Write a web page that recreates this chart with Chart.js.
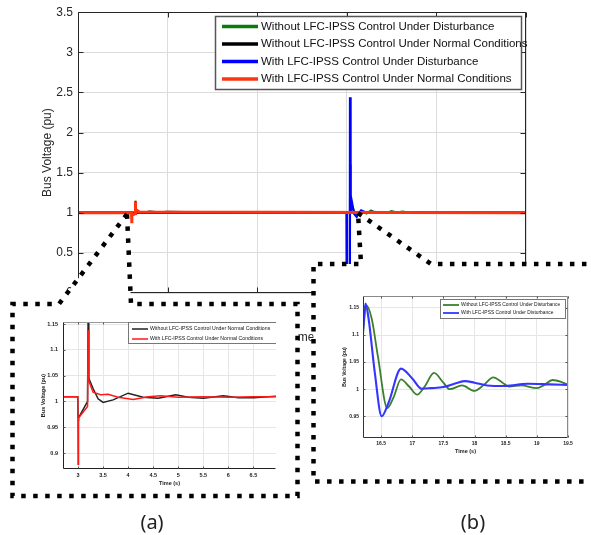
<!DOCTYPE html>
<html><head><meta charset="utf-8">
<script src="https://cdn.jsdelivr.net/npm/chart.js@4.4.1/dist/chart.umd.min.js"></script>
<style>
html,body{margin:0;padding:0;background:#fff;width:591px;height:535px;overflow:hidden}
canvas{position:absolute}
.lab{position:absolute;font-family:"Noto Sans","Open Sans",sans-serif;font-size:20px;color:#222;transform:translate(-50%,-50%);white-space:nowrap}
</style></head><body>
<canvas id="main" width="591" height="349" style="left:0;top:0"></canvas>
<canvas id="callout" width="591" height="535" style="left:0;top:0"></canvas>
<canvas id="insA" width="285" height="193" style="left:12px;top:304px"></canvas>
<canvas id="insB" width="278" height="218" style="left:313px;top:264px"></canvas>
<div class="lab" style="left:152px;top:521px">(a)</div>
<div class="lab" style="left:473px;top:521px">(b)</div>
<script>
// ---------- names ----------
const seriesNames = [
  'Without LFC-IPSS Control Under Disturbance',
  'Without LFC-IPSS Control Under Normal Conditions',
  'With LFC-IPSS Control Under Disturbance',
  'With LFC-IPSS Control Under Normal Conditions'
];
const panelLabels = ['(a)', '(b)'];
const xTitle = 'Time (s)';
const yTitle = 'Bus Voltage (pu)';

// ---------- main chart ticks ----------
const mainXTickValues = [0, 5, 10, 15, 20, 25];
const mainXTickLabels = ['0', '5', '10', '15', '20', '25'];
const mainYTickValues = [0, 0.5, 1, 1.5, 2, 2.5, 3, 3.5];
const mainYTickLabels = ['0', '0.5', '1', '1.5', '2', '2.5', '3', '3.5'];

// ---------- main chart series ----------
const mainGreenT = [0, 14.99, 15.0, 15.17, 15.18, 15.21, 15.28, 15.5, 15.8, 16.1, 16.35, 16.6, 16.9, 17.2, 17.5, 17.8, 18.1, 18.4, 19, 20, 25];
const mainGreenV = [1, 1, 0.3, 0.3, 1.6, 1.0, 1.1, 0.965, 1.02, 0.99, 1.03, 1.0, 1.007, 0.997, 1.022, 1.005, 1.017, 1.008, 1.005, 1.0, 1.0];
const mainBlackT = [0, 2.99, 3.0, 3.01, 3.19, 3.2, 3.22, 3.5, 4.0, 4.5, 5.0, 6, 7, 25];
const mainBlackV = [1, 1, 0.97, 0.968, 1.0, 1.15, 1.045, 0.998, 1.016, 1.007, 1.013, 1.01, 1.01, 1.0];
const mainBlueT = [0, 14.99, 15.0, 15.17, 15.18, 15.21, 15.27, 15.4, 15.55, 15.8, 16.1, 16.4, 17, 18, 25];
const mainBlueV = [1, 1, 0.1, 0.1, 2.44, 1.0, 1.15, 0.99, 0.95, 1.03, 1.0, 1.01, 1.005, 1.0, 1.0];
const mainRedT = [0, 2.99, 3.0, 3.01, 3.19, 3.2, 3.22, 3.4, 25];
const mainRedV = [1, 1, 0.87, 0.968, 0.99, 1.14, 1.04, 1.01, 1.0];

// ---------- inset (a) ----------
const insAXTickValues = [3, 3.5, 4, 4.5, 5, 5.5, 6, 6.5];
const insAXTickLabels = ['3', '3.5', '4', '4.5', '5', '5.5', '6', '6.5'];
const insAYTickValues = [0.9, 0.95, 1, 1.05, 1.1, 1.15];
const insAYTickLabels = ['0.9', '0.95', '1', '1.05', '1.1', '1.15'];
const insABlackT = [2.7, 2.995, 3.0, 3.01, 3.1, 3.19, 3.2, 3.215, 3.3, 3.4, 3.5, 3.7, 4.0, 4.3, 4.6, 4.95, 5.2, 5.5, 5.9, 6.2, 6.5, 6.95];
const insABlackV = [1.009, 1.009, 0.97, 0.968, 0.984, 1.0, 1.152, 1.045, 1.025, 1.005, 0.998, 1.003, 1.016, 1.008, 1.006, 1.013, 1.008, 1.006, 1.011, 1.007, 1.007, 1.01];
const insARedT = [2.7, 2.995, 3.0, 3.005, 3.015, 3.1, 3.19, 3.2, 3.215, 3.3, 3.45, 3.6, 3.8, 4.1, 4.4, 4.65, 5.0, 5.5, 6.0, 6.5, 6.95];
const insARedV = [1.009, 1.009, 0.878, 0.968, 0.968, 0.979, 0.99, 1.138, 1.04, 1.018, 1.013, 1.014, 1.008, 1.004, 1.009, 1.011, 1.008, 1.009, 1.008, 1.009, 1.009];

// ---------- inset (b) ----------
const insBXTickValues = [16.5, 17, 17.5, 18, 18.5, 19, 19.5];
const insBXTickLabels = ['16.5', '17', '17.5', '18', '18.5', '19', '19.5'];
const insBYTickValues = [0.95, 1, 1.05, 1.1, 1.15];
const insBYTickLabels = ['0.95', '1', '1.05', '1.1', '1.15'];
const insBGreenT = [16.21, 16.26, 16.35, 16.45, 16.6, 16.7, 16.82, 16.95, 17.08, 17.2, 17.35, 17.5, 17.6, 17.8, 18.0, 18.15, 18.3, 18.45, 18.55, 18.75, 19.0, 19.12, 19.25, 19.4, 19.5];
const insBGreenV = [1.1, 1.155, 1.13, 1.06, 0.965, 0.985, 1.018, 1.005, 0.99, 1.005, 1.03, 1.012, 1.0, 1.007, 0.997, 1.008, 1.022, 1.012, 1.005, 1.007, 1.002, 1.008, 1.017, 1.013, 1.008];
const insBBlueT = [16.21, 16.25, 16.3, 16.4, 16.51, 16.62, 16.82, 17.0, 17.15, 17.3, 17.5, 17.7, 17.85, 18.0, 18.2, 18.5, 18.85, 19.2, 19.5];
const insBBlueV = [1.11, 1.158, 1.13, 1.03, 0.95, 0.975, 1.038, 1.02, 1.001, 1.002, 1.004, 1.011, 1.015, 1.012, 1.007, 1.006, 1.01, 1.009, 1.008];

// ---------- helpers ----------
const FAM = '"Liberation Sans", Arial, sans-serif';
const xy = (t, v) => t.map((x, i) => ({x: x, y: v[i]}));
const setTicks = vals => s => { s.ticks = vals.map(v => ({value: v})); };
const labelFrom = (vals, labels) => (v) => { const i = vals.findIndex(q => Math.abs(q - v) < 1e-9); return i >= 0 ? labels[i] : ''; };

function framePlugin(id, F) {
  return {id, afterDatasetsDraw(chart) {
    const c = chart.ctx, a = chart.chartArea, xs = chart.scales.x, ys = chart.scales.y;
    c.save(); c.lineWidth = F.lw; c.setLineDash([]);
    const L = Math.round(a.left) + 0.5, R = Math.round(a.right) - 0.5, T = Math.round(a.top) + 0.5, B = Math.round(a.bottom) - 0.5;
    const seg = (col, x1, y1, x2, y2) => { c.strokeStyle = col; c.beginPath(); c.moveTo(x1, y1); c.lineTo(x2, y2); c.stroke(); };
    if (F.top) seg(F.top, L, T, R, T);
    if (F.bottom) seg(F.bottom, L, B, R, B);
    if (F.left) seg(F.left, L, T, L, B);
    if (F.right) seg(F.right, R, T, R, B);
    xs.ticks.forEach(t => { const p = Math.round(xs.getPixelForValue(t.value)) + 0.5;
      if (F.bottom) seg(F.tickColor, p, B, p, B - F.len);
      if (F.top) seg(F.tickColor, p, T, p, T + F.len); });
    ys.ticks.forEach(t => { const p = Math.round(ys.getPixelForValue(t.value)) + 0.5;
      if (F.left) seg(F.tickColor, L, p, L + F.len, p);
      if (F.right) seg(F.tickColor, R, p, R - F.len, p); });
    c.restore();
  }};
}
function legendPlugin(id, G) {
  return {id, afterDraw(chart) {
    const c = chart.ctx; c.save();
    if (G.clip) { c.beginPath(); c.rect(0, 0, G.clip, chart.height); c.clip(); }
    c.fillStyle = '#fff'; c.fillRect(G.x, G.y, G.w, G.h);
    c.strokeStyle = G.border; c.lineWidth = G.blw; c.strokeRect(G.x + 0.5, G.y + 0.5, G.w, G.h);
    c.font = G.font; c.textBaseline = 'middle'; c.textAlign = 'left';
    G.items.forEach(it => {
      const ds = chart.data.datasets[it.ds];
      c.strokeStyle = ds.borderColor; c.lineWidth = G.lw; c.beginPath();
      c.moveTo(G.lx1, it.y); c.lineTo(G.lx2, it.y); c.stroke();
      c.fillStyle = G.textColor; c.fillText(ds.label, G.tx, it.y);
    });
    c.restore();
  }};
}
// x-axis title drawn slightly right of the plot centre, as in the source figure
const mainXTitlePlugin = {id: 'mainXTitle', afterDraw(chart) {
  const c = chart.ctx, a = chart.chartArea; c.save();
  c.font = '12px ' + FAM; c.fillStyle = '#262626'; c.textAlign = 'center'; c.textBaseline = 'middle';
  c.fillText(xTitle, (a.left + a.right) / 2 + 8, 338); c.restore();
}};

// ---------- main chart ----------
new Chart(document.getElementById('main'), {
  type: 'line',
  data: { datasets: [
    {label: seriesNames[0], data: xy(mainGreenT, mainGreenV), borderColor: '#0b7a0b', borderWidth: 2, order: 3},
    {label: seriesNames[1], data: xy(mainBlackT, mainBlackV), borderColor: '#000000', borderWidth: 2, order: 2},
    {label: seriesNames[2], data: xy(mainBlueT, mainBlueV), borderColor: '#0000ff', borderWidth: 2.3, order: 1},
    {label: seriesNames[3], data: xy(mainRedT, mainRedV), borderColor: '#ff3311', borderWidth: 3, order: 0}
  ]},
  options: {
    responsive: false, animation: false, devicePixelRatio: 1,
    elements: {point: {radius: 0}, line: {tension: 0}},
    layout: {padding: {left: 0, top: 12, right: 65, bottom: 0}},
    plugins: {legend: {display: false}, tooltip: {enabled: false}},
    scales: {
      x: {type: 'linear', min: 0, max: 25, afterBuildTicks: setTicks(mainXTickValues),
          afterFit: s => { s.height = 56; },
          ticks: {callback: labelFrom(mainXTickValues, mainXTickLabels), font: {family: FAM, size: 12}, color: '#262626', padding: 12, maxRotation: 0},
          grid: {color: '#dcdcdc', drawTicks: false}, border: {display: false},
          title: {display: false}},
      y: {type: 'linear', min: 0, max: 3.5, afterBuildTicks: setTicks(mainYTickValues),
          afterFit: s => { s.width = 78; },
          ticks: {callback: labelFrom(mainYTickValues, mainYTickLabels), font: {family: FAM, size: 12}, color: '#262626', padding: 5},
          grid: {color: '#dcdcdc', drawTicks: false}, border: {display: false},
          title: {display: true, text: yTitle, font: {family: FAM, size: 12}, color: '#262626', padding: {top: 40, bottom: 0}}}
    }
  },
  plugins: [
    framePlugin('mainFrame', {lw: 1, top: '#262626', bottom: '#262626', left: '#262626', right: '#262626', tickColor: '#262626', len: 5}),
    legendPlugin('mainLegend', {x: 215, y: 16, w: 306, h: 73, border: '#555', blw: 1.5, font: '11.5px ' + FAM, textColor: '#111', lw: 3.5,
      lx1: 222, lx2: 258, tx: 261, items: [{ds: 0, y: 26.5}, {ds: 1, y: 44}, {ds: 2, y: 61.5}, {ds: 3, y: 79}]}),
    mainXTitlePlugin
  ]
});

// ---------- callout shapes ----------
(function () {
  const g = document.getElementById('callout').getContext('2d');
  function callout(pts) {
    g.beginPath();
    pts.forEach((p, i) => i ? g.lineTo(p[0], p[1]) : g.moveTo(p[0], p[1]));
    g.closePath();
    g.fillStyle = '#fff'; g.fill();
    g.setLineDash([4.5, 7.5]); g.lineWidth = 4.5; g.lineCap = 'butt'; g.strokeStyle = '#000'; g.stroke();
  }
  callout([[127, 214], [59, 304], [12.5, 304], [12.5, 496], [297.5, 496], [297.5, 304], [131, 304]]);
  callout([[358, 213], [431, 264], [600, 264], [600, 481.5], [313.5, 481.5], [313.5, 264], [361, 264]]);
})();

// ---------- inset (a) ----------
const SMALL = (sz, w) => ({family: FAM, size: sz, weight: w || 'bold'});
new Chart(document.getElementById('insA'), {
  type: 'line',
  data: { datasets: [
    {label: seriesNames[1], data: xy(insABlackT, insABlackV), borderColor: '#222222', borderWidth: 1.5, order: 1},
    {label: seriesNames[3], data: xy(insARedT, insARedV), borderColor: '#ff1a1a', borderWidth: 1.5, order: 0}
  ]},
  options: {
    responsive: false, animation: false, devicePixelRatio: 1,
    elements: {point: {radius: 0}, line: {tension: 0}},
    layout: {padding: {left: 0, top: 18, right: 21, bottom: 0}},
    plugins: {legend: {display: false}, tooltip: {enabled: false}},
    scales: {
      x: {type: 'linear', min: 2.7, max: 6.95, afterBuildTicks: setTicks(insAXTickValues),
          afterFit: s => { s.height = 28; },
          ticks: {callback: labelFrom(insAXTickValues, insAXTickLabels), font: SMALL(5.5), color: '#222', padding: 3, maxRotation: 0},
          grid: {color: '#e6e6e6', drawTicks: false}, border: {display: false},
          title: {display: true, text: xTitle, font: SMALL(5.5), color: '#222', padding: {top: 0, bottom: 10.7}}},
      y: {type: 'linear', min: 0.869, max: 1.154, afterBuildTicks: setTicks(insAYTickValues),
          afterFit: s => { s.width = 51; },
          ticks: {callback: labelFrom(insAYTickValues, insAYTickLabels), font: SMALL(5.5), color: '#222', padding: 5},
          grid: {color: '#e6e6e6', drawTicks: false}, border: {display: false},
          title: {display: true, text: yTitle, font: SMALL(5.5), color: '#222', padding: {top: 27.7, bottom: 0}}}
    }
  },
  plugins: [
    framePlugin('aFrame', {lw: 1, top: '#999', bottom: '#222', left: '#222', right: null, tickColor: '#555', len: 2}),
    legendPlugin('aLegend', {x: 116, y: 18, w: 200, h: 21, border: '#777', blw: 1, font: '5.2px ' + FAM, textColor: '#111', lw: 1.5,
      lx1: 120, lx2: 136, tx: 138, clip: 264, items: [{ds: 0, y: 25}, {ds: 1, y: 35}]})
  ]
});

// ---------- inset (b) ----------
new Chart(document.getElementById('insB'), {
  type: 'line',
  data: { datasets: [
    {label: seriesNames[0], data: xy(insBGreenT, insBGreenV), borderColor: '#3b7f2f', borderWidth: 1.8, cubicInterpolationMode: 'monotone', order: 1},
    {label: seriesNames[2], data: xy(insBBlueT, insBBlueV), borderColor: '#3535ff', borderWidth: 2.1, cubicInterpolationMode: 'monotone', order: 0}
  ]},
  options: {
    responsive: false, animation: false, devicePixelRatio: 1,
    elements: {point: {radius: 0}},
    layout: {padding: {left: 0, top: 32, right: 23, bottom: 0}},
    plugins: {legend: {display: false}, tooltip: {enabled: false}},
    scales: {
      x: {type: 'linear', min: 16.21, max: 19.5, afterBuildTicks: setTicks(insBXTickValues),
          afterFit: s => { s.height = 44; },
          ticks: {callback: labelFrom(insBXTickValues, insBXTickLabels), font: SMALL(5), color: '#222', padding: 3, maxRotation: 0},
          grid: {color: '#e6e6e6', drawTicks: false}, border: {display: false},
          title: {display: true, text: xTitle, font: SMALL(5.5), color: '#222', padding: {top: 0, bottom: 27}}},
      y: {type: 'linear', min: 0.91, max: 1.172, afterBuildTicks: setTicks(insBYTickValues),
          afterFit: s => { s.width = 50; },
          ticks: {callback: labelFrom(insBYTickValues, insBYTickLabels), font: SMALL(5), color: '#222', padding: 4},
          grid: {color: '#e6e6e6', drawTicks: false}, border: {display: false},
          title: {display: true, text: yTitle, font: SMALL(5), color: '#222', padding: {top: 29, bottom: 0}}}
    }
  },
  plugins: [
    framePlugin('bFrame', {lw: 1, top: '#888', bottom: '#333', left: '#333', right: '#888', tickColor: '#555', len: 2}),
    legendPlugin('bLegend', {x: 127, y: 35, w: 125, h: 19, border: '#777', blw: 1, font: '4.9px ' + FAM, textColor: '#111', lw: 1.8,
      lx1: 130, lx2: 146, tx: 148, items: [{ds: 0, y: 41}, {ds: 1, y: 49}]})
  ]
});
</script>
</body></html>
